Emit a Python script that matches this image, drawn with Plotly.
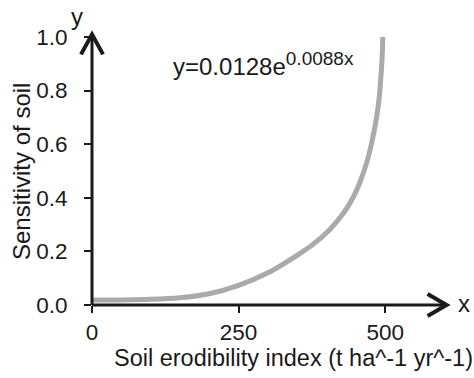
import plotly.graph_objects as go

# Values
x_vals = [0, 50, 100, 150, 200, 250, 300, 355, 378, 406, 429, 446, 457, 469, 478, 485, 490, 493, 495, 496]
y_vals = [0.019, 0.019, 0.021, 0.027, 0.042, 0.073, 0.12, 0.193, 0.228, 0.283, 0.343, 0.404, 0.458,
          0.535, 0.615, 0.695, 0.777, 0.86, 0.93, 1.0]
x_ticks = [0, 250, 500]
x_tick_text = ["0", "250", "500"]
y_ticks = [0.0, 0.2, 0.4, 0.6, 0.8, 1.0]
y_tick_text = ["0.0", "0.2", "0.4", "0.6", "0.8", "1.0"]
equation = "y=0.0128e<sup><span style='font-size:19px'>0.0088x</span></sup>"
x_title = "Soil erodibility index (t ha^-1 yr^-1)"
y_title = "Sensitivity of soil"

FONT = "Liberation Sans, Arial, sans-serif"
INK = "#1a1a1a"

W, H = 474, 378
L, R, T, B = 92, 22, 33, 73
PW, PH = W - L - R, H - T - B


def px(xp):
    return (xp - L) / PW


def py(yp):
    return (H - B - yp) / PH


fig = go.Figure()
fig.add_trace(go.Scatter(
    x=x_vals, y=y_vals, mode="lines",
    line=dict(color="#aaaaaa", width=5, shape="spline", smoothing=0.8),
    hoverinfo="skip", showlegend=False,
))

axis_common = dict(
    showgrid=False, zeroline=False, showline=False,
    ticks="outside", ticklen=7, tickwidth=2, tickcolor=INK,
    tickfont=dict(family=FONT, size=22.5, color=INK),
)

fig.update_layout(
    width=W, height=H,
    margin=dict(l=L, r=R, t=T, b=B),
    paper_bgcolor="white", plot_bgcolor="white",
    xaxis=dict(range=[0, 614], tickvals=x_ticks, ticktext=x_tick_text, **axis_common),
    yaxis=dict(range=[0, 1.015], tickvals=y_ticks, ticktext=y_tick_text,
               ticklabelstandoff=12, **axis_common),
    showlegend=False,
)

# Axis lines with open arrowheads (paper coordinates)
line_style = dict(color=INK, width=3)
head_style = dict(color=INK, width=4)
tipx = 0.985
tipy = 0.995
fig.add_shape(type="line", xref="paper", yref="paper", x0=0, y0=0, x1=tipx, y1=0, line=line_style)
fig.add_shape(type="line", xref="paper", yref="paper", x0=0, y0=0, x1=0, y1=tipy, line=line_style)
fig.add_shape(type="path", xref="paper", yref="paper",
              path=f"M {tipx - 19/PW},{11/PH} L {tipx},0 L {tipx - 19/PW},{-11/PH}",
              line=head_style)
fig.add_shape(type="path", xref="paper", yref="paper",
              path=f"M {-11/PW},{tipy - 20/PH} L 0,{tipy} L {11/PW},{tipy - 20/PH}",
              line=head_style)

ann_font = dict(family=FONT, size=24, color=INK)
fig.add_annotation(text=x_title, xref="paper", yref="paper", x=px(293), y=py(358),
                   xanchor="center", yanchor="middle", showarrow=False,
                   font=dict(family=FONT, size=23.5, color=INK))
fig.add_annotation(text=y_title, xref="paper", yref="paper", x=px(21), y=py(172),
                   xanchor="center", yanchor="middle", textangle=-90, showarrow=False, font=ann_font)
fig.add_annotation(text="y", xref="paper", yref="paper", x=px(77), y=py(16),
                   xanchor="center", yanchor="middle", showarrow=False, font=ann_font)
fig.add_annotation(text="x", xref="paper", yref="paper", x=px(464), y=py(303),
                   xanchor="center", yanchor="middle", showarrow=False, font=ann_font)
fig.add_annotation(text=equation, xref="paper", yref="paper", x=px(171), y=py(64),
                   xanchor="left", yanchor="middle", showarrow=False, font=ann_font)

fig.write_html("out.html", config={"displayModeBar": False},
               post_script="document.body.style.margin='0px';")
